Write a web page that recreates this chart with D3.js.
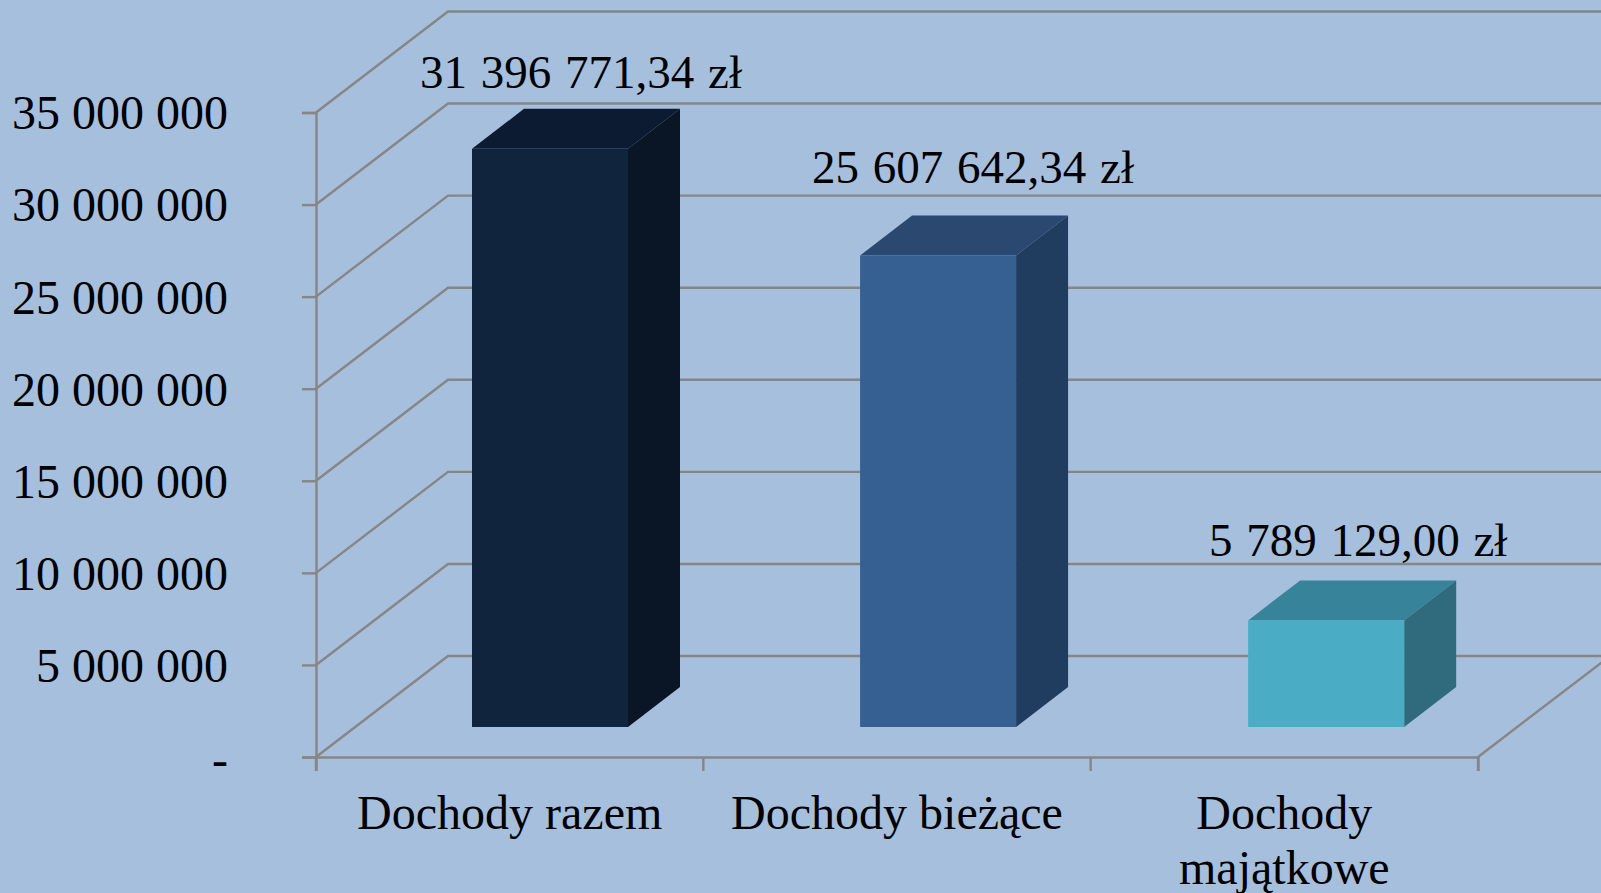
<!DOCTYPE html>
<html>
<head>
<meta charset="utf-8">
<script src="https://cdnjs.cloudflare.com/ajax/libs/d3/7.8.5/d3.min.js"></script>
<style>
  html, body { margin: 0; padding: 0; background: #a6bfdd; overflow: hidden; }
  svg { display: block; }
  text { font-family: "Liberation Serif", serif; fill: #000; }
</style>
</head>
<body>
<div id="vis-container"></div>
<script>
const categories = ["Dochody razem", "Dochody bieżące", "Dochody majątkowe"];
const values = [31396771.34, 25607642.34, 5789129.00];
const valueLabels = ["31 396 771,34 zł", "25 607 642,34 zł", "5 789 129,00 zł"];
const yTicks = [0, 5000000, 10000000, 15000000, 20000000, 25000000, 30000000, 35000000];
const frontColors = ["#11243d", "#366092", "#4bacc6"];
const topColors = ["#0c1b31", "#2a4870", "#37839a"];
const sideColors = ["#0a1626", "#203c5f", "#2f6b7c"];

const width = 1601, height = 893;
const grid = "#868686";

// fake 3d: how far the back wall sits from the axis, and how deep a bar is
const wall = { dx: 132, dy: -101 };
const depth = { dx: 52, dy: -40 };
const floorFront = { dx: 0, dy: -30 };

const svg = d3.select("#vis-container")
  .append("svg")
  .attr("width", width)
  .attr("height", height)
  .attr("viewBox", `0 0 ${width} ${height}`);

const x = d3.scaleBand()
  .domain(categories)
  .range([316, 1478])
  .paddingInner(0)
  .paddingOuter(0);

const y = d3.scaleLinear()
  .domain([0, 35000000])
  .range([757, 112.5]);

const barHeight = v => y(0) - y(v);
const barW = 156;
const barLeft = (c, i) => x(c) + 156 + i * 0.75;

// walls and floor
const wallG = svg.append("g").attr("fill", "none").attr("stroke", grid).attr("stroke-width", 2.4);
yTicks.forEach(t => {
  wallG.append("path")
    .attr("d", d3.line()([[x.range()[0], y(t)], [x.range()[0] + wall.dx, y(t) + wall.dy], [width + 5, y(t) + wall.dy]]));
});
wallG.append("path")
  .attr("d", d3.line()([[x.range()[1], y(0)], [x.range()[1] + wall.dx, y(0) + wall.dy]]));

// bars
const bars = svg.selectAll("g.bar")
  .data(categories)
  .join("g")
  .attr("class", "bar");

bars.each(function(c, i) {
  const g = d3.select(this);
  const l = barLeft(c, i), r = l + barW;
  const b = y(0) + floorFront.dy, t = b - barHeight(values[i]);
  const line = d3.line();
  g.append("path")
    .attr("fill", topColors[i])
    .attr("d", line([[l, t], [l + depth.dx, t + depth.dy], [r + depth.dx, t + depth.dy], [r, t]]) + "Z");
  g.append("path")
    .attr("fill", sideColors[i])
    .attr("d", line([[r, t], [r + depth.dx, t + depth.dy], [r + depth.dx, b + depth.dy], [r, b]]) + "Z");
  g.append("rect")
    .attr("x", l)
    .attr("y", t)
    .attr("width", barW)
    .attr("height", b - t)
    .attr("fill", frontColors[i]);
});

// y axis
const yAxis = d3.axisLeft(y)
  .tickValues(yTicks)
  .tickSize(14)
  .tickPadding(74)
  .tickFormat(d => d === 0 ? "-" : d3.format(",")(d).replace(/,/g, " "));

const yG = svg.append("g")
  .attr("transform", "translate(316,0)")
  .call(yAxis);
yG.select(".domain").attr("stroke", grid).attr("stroke-width", 2.4);
yG.selectAll(".tick line").attr("stroke", grid).attr("stroke-width", 2.4);
yG.selectAll(".tick text")
  .style("font-size", "48px")
  .attr("fill", "#000")
  .attr("y", d => d === 0 ? 3 : 1);

// x axis
const xAxis = d3.axisBottom(x).tickSize(14).tickFormat("");
const xG = svg.append("g")
  .attr("transform", `translate(0,${y(0)})`)
  .call(xAxis);
xG.select(".domain").attr("stroke", grid).attr("stroke-width", 2.4);
xG.selectAll(".tick").remove();
xG.selectAll(".sep")
  .data([...categories.map(c => x(c)), x.range()[1]])
  .join("line")
  .attr("x1", d => d).attr("x2", d => d)
  .attr("y1", 0).attr("y2", 14)
  .attr("stroke", grid).attr("stroke-width", 2.4);

// category labels
const catLines = [["Dochody razem"], ["Dochody bieżące"], ["Dochody", "majątkowe"]];
svg.selectAll("text.cat")
  .data(categories)
  .join("text")
  .attr("class", "cat")
  .attr("text-anchor", "middle")
  .style("font-size", "48px")
  .each(function(c, i) {
    catLines[i].forEach((s, j) => {
      d3.select(this).append("tspan")
        .attr("x", x(c) + x.bandwidth() / 2)
        .attr("y", 829 + j * 55)
        .text(s);
    });
  });

// value labels
const labelShift = [[-21, -21], [-17, -32], [-20, -24]];
svg.selectAll("text.val")
  .data(categories)
  .join("text")
  .attr("class", "val")
  .attr("text-anchor", "middle")
  .style("font-size", "47px")
  .style("word-spacing", "2px")
  .attr("x", (c, i) => barLeft(c, i) + barW / 2 + depth.dx + labelShift[i][0])
  .attr("y", (c, i) => y(0) + floorFront.dy - barHeight(values[i]) + depth.dy + labelShift[i][1])
  .text((c, i) => valueLabels[i]);
</script>
</body>
</html>
